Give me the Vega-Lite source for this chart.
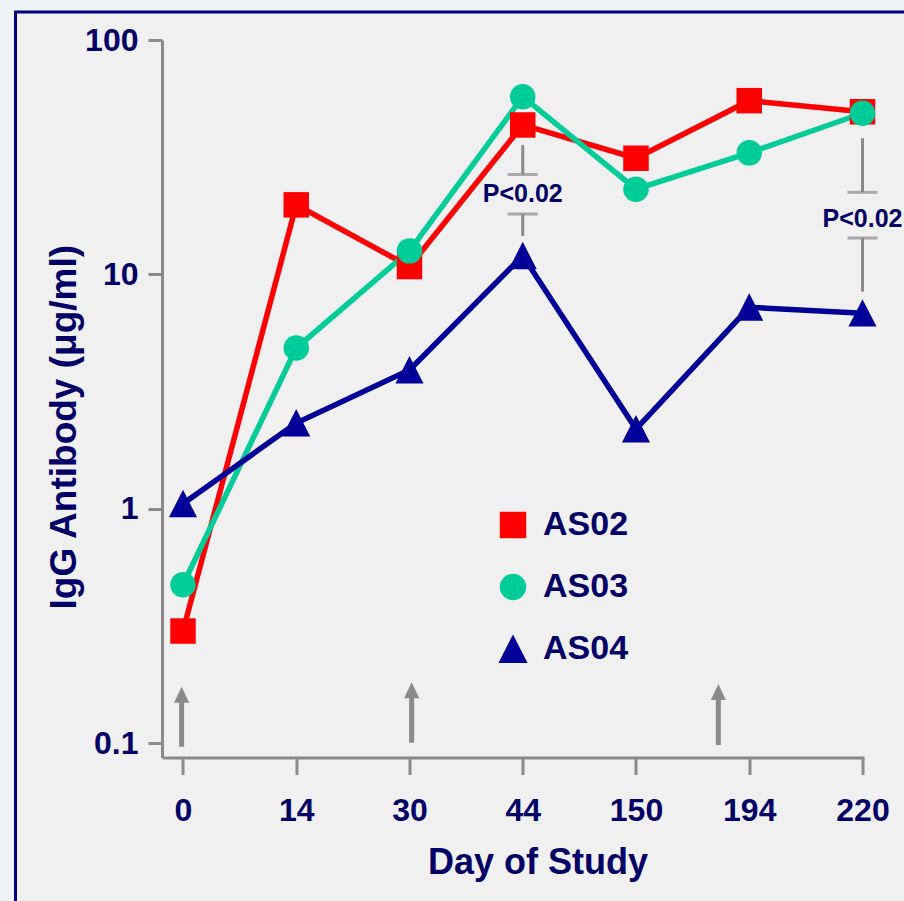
{
  "$schema": "https://vega.github.io/schema/vega-lite/v6.json",
  "autosize": {"type": "none"},
  "width": 891.5,
  "height": 892,
  "padding": {"left": 15.5, "top": 12, "right": -3, "bottom": -3},
  "background": "#eef3f8",
  "view": {"fill": "#f0f0f0", "stroke": "#000080", "strokeWidth": 3},
  "config": {"font": "Liberation Sans"},
  "datasets": {
    "series": [
      {"day": 0, "group": "AS02", "igg": 0.301},
      {"day": 14, "group": "AS02", "igg": 19.8},
      {"day": 30, "group": "AS02", "igg": 10.8},
      {"day": 44, "group": "AS02", "igg": 43.4},
      {"day": 150, "group": "AS02", "igg": 31.3},
      {"day": 194, "group": "AS02", "igg": 55.1},
      {"day": 220, "group": "AS02", "igg": 49.4},
      {"day": 0, "group": "AS03", "igg": 0.474},
      {"day": 14, "group": "AS03", "igg": 4.85},
      {"day": 30, "group": "AS03", "igg": 12.6},
      {"day": 44, "group": "AS03", "igg": 57.3},
      {"day": 150, "group": "AS03", "igg": 23.1},
      {"day": 194, "group": "AS03", "igg": 33.0},
      {"day": 220, "group": "AS03", "igg": 48.7},
      {"day": 0, "group": "AS04", "igg": 1.05},
      {"day": 14, "group": "AS04", "igg": 2.32},
      {"day": 30, "group": "AS04", "igg": 3.91},
      {"day": 44, "group": "AS04", "igg": 12.0},
      {"day": 150, "group": "AS04", "igg": 2.19},
      {"day": 194, "group": "AS04", "igg": 7.24},
      {"day": 220, "group": "AS04", "igg": 6.83}
    ],
    "brackets": [
      {"day": 44, "lo": 26.7, "hi": 35.6},
      {"day": 44, "lo": 14.6, "hi": 18.1},
      {"day": 220, "lo": 22.4, "hi": 38.1},
      {"day": 220, "lo": 8.44, "hi": 14.3}
    ],
    "caps": [
      {"day": 44, "v": 26.7},
      {"day": 44, "v": 18.1},
      {"day": 220, "v": 22.4},
      {"day": 220, "v": 14.3}
    ],
    "pvalues": [
      {"day": 44, "v": 22.0, "label": "P<0.02"},
      {"day": 220, "v": 17.3, "label": "P<0.02"}
    ],
    "doses": [
      {"pos": -0.012, "base": 0.0966, "top": 0.1514, "head": 0.161},
      {"pos": 2.019, "base": 0.1005, "top": 0.1574, "head": 0.1683},
      {"pos": 4.727, "base": 0.0982, "top": 0.1544, "head": 0.1653}
    ]
  },
  "layer": [
    {
      "layer": [
        {
          "data": {"name": "brackets"},
          "mark": {"type": "rule", "color": "#8a8a8a", "strokeWidth": 3},
          "encoding": {
            "x": {"field": "day", "type": "ordinal", "scale": {"type": "point", "domain": [0, 14, 30, 44, 150, 194, 220], "range": [146.5, 848.5], "padding": 0.0993, "align": 0.933},
              "axis": {
                "orient": "bottom", "offset": -146.5, "title": "Day of Study", "zindex": 1,
                "labelAngle": 0, "labelFont": "Liberation Sans", "labelFontWeight": "bold", "labelFontSize": 32, "labelColor": "#000066",
                "labelPadding": 21, "tickSize": 17, "tickWidth": 3, "tickColor": "#8a8a8a",
                "domainColor": "#8a8a8a", "domainWidth": 3, "grid": false,
                "titleFont": "Liberation Sans", "titleFontWeight": "bold", "titleFontSize": 36, "titleColor": "#000066",
                "titleX": 522, "titleY": 116, "titleBaseline": "alphabetic", "titleAlign": "center"
              }},
            "y": {"field": "lo", "type": "quantitative", "scale": {"type": "log", "domain": [0.0869, 100], "range": [745.5, 28], "nice": false, "zero": false},
              "axis": {
                "orient": "left", "offset": -146.5, "values": [0.1, 1, 10, 100], "format": "~g", "zindex": 1,
                "title": "IgG Antibody (μg/ml)",
                "labelFont": "Liberation Sans", "labelFontWeight": "bold", "labelFontSize": 32, "labelColor": "#000066",
                "labelPadding": 10, "tickSize": 14, "tickWidth": 3, "tickColor": "#8a8a8a",
                "domainColor": "#8a8a8a", "domainWidth": 3, "grid": false,
                "titleFont": "Liberation Sans", "titleFontWeight": "bold", "titleFontSize": 37, "titleColor": "#000066",
                "titleAngle": -90, "titleX": -87, "titleY": 414.7, "titleBaseline": "alphabetic", "titleAlign": "center"
              }},
            "y2": {"field": "hi"}
          }
        },
        {
          "data": {"name": "caps"},
          "mark": {"type": "tick", "color": "#8a8a8a", "size": 30, "thickness": 3, "orient": "horizontal"},
          "encoding": {
            "x": {"field": "day", "type": "ordinal"},
            "y": {"field": "v", "type": "quantitative"}
          }
        },
        {
          "data": {"name": "pvalues"},
          "mark": {"type": "text", "font": "Liberation Sans", "fontWeight": "bold", "fontSize": 25, "color": "#000066", "align": "center", "baseline": "middle"},
          "encoding": {
            "x": {"field": "day", "type": "ordinal"},
            "y": {"field": "v", "type": "quantitative"},
            "text": {"field": "label"}
          }
        },
        {
          "data": {"name": "series"},
          "mark": {"type": "line", "strokeWidth": 5.5},
          "encoding": {
            "x": {"field": "day", "type": "ordinal"},
            "y": {"field": "igg", "type": "quantitative"},
            "stroke": {"field": "group", "type": "nominal", "scale": {"range": ["#ff0000", "#00cc99", "#000099"]}, "legend": null}
          }
        },
        {
          "data": {"name": "series"},
          "mark": {"type": "point", "filled": true, "size": 650, "opacity": 1, "strokeWidth": 0},
          "encoding": {
            "x": {"field": "day", "type": "ordinal"},
            "y": {"field": "igg", "type": "quantitative"},
            "color": {"field": "group", "type": "nominal", "scale": {"domain": ["AS02", "AS03", "AS04"], "range": ["#ff0000", "#00cc99", "#000099"]},
              "legend": {"orient": "none", "legendX": 480.5, "legendY": 496, "title": null, "symbolSize": 700, "symbolStrokeWidth": 0,
                "labelFont": "Liberation Sans", "labelFontWeight": "bold", "labelFontSize": 34, "labelColor": "#000066",
                "rowPadding": 28, "labelOffset": 13, "padding": 0}},
            "shape": {"field": "group", "type": "nominal", "scale": {"domain": ["AS02", "AS03", "AS04"], "range": ["square", "circle", "M0,-1.1L-1.1,1.05L1.1,1.05Z"]},
              "legend": {"orient": "none", "legendX": 480.5, "legendY": 496, "title": null, "symbolSize": 700, "symbolStrokeWidth": 0,
                "labelFont": "Liberation Sans", "labelFontWeight": "bold", "labelFontSize": 34, "labelColor": "#000066",
                "rowPadding": 28, "labelOffset": 13, "padding": 0}}
          }
        }
      ]
    },
    {
      "data": {"name": "doses"},
      "layer": [
        {
          "mark": {"type": "rule", "color": "#8a8a8a", "strokeWidth": 5},
          "encoding": {
            "x": {"field": "pos", "type": "quantitative", "scale": {"domain": [-0.1854, 6.0132], "range": [146.5, 848.5], "nice": false, "zero": false}, "axis": null},
            "y": {"field": "base", "type": "quantitative"},
            "y2": {"field": "top"}
          }
        },
        {
          "mark": {"type": "point", "filled": true, "color": "#8a8a8a", "opacity": 1, "strokeWidth": 0, "size": 256, "shape": "M0,-1L-0.95,1L0.95,1Z"},
          "encoding": {
            "x": {"field": "pos", "type": "quantitative", "axis": null},
            "y": {"field": "head", "type": "quantitative"}
          }
        }
      ]
    }
  ],
  "resolve": {"scale": {"x": "independent"}}
}
